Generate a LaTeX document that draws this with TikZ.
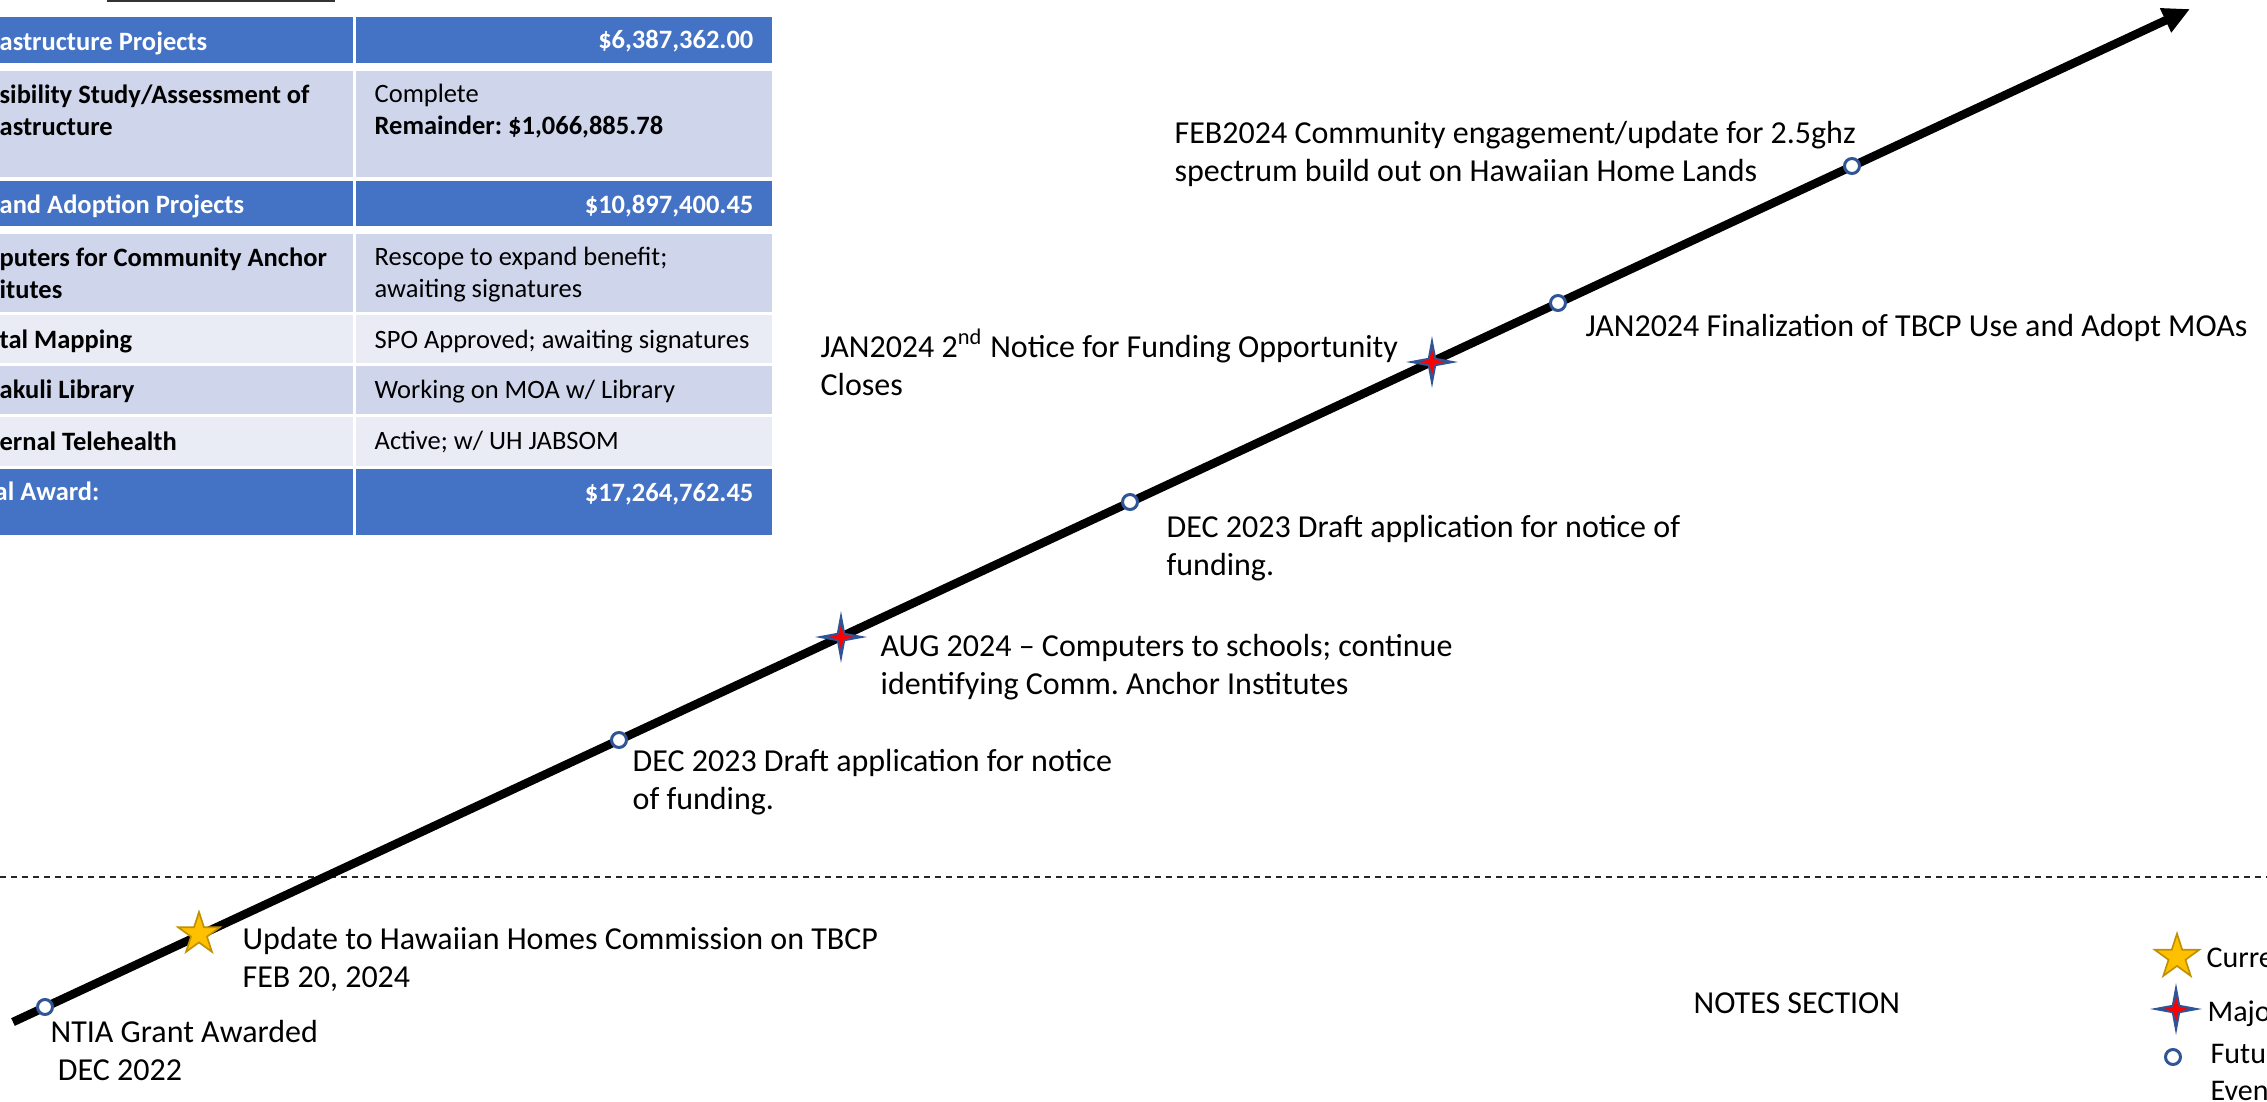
\documentclass[tikz,border=0pt]{standalone}
\usepackage{fontspec}
\setmainfont{Carlito}
\usetikzlibrary{arrows.meta,shapes.geometric}
\definecolor{hdrblue}{HTML}{4472C4}
\definecolor{rowdark}{HTML}{CFD5EA}
\definecolor{rowlight}{HTML}{E9EBF5}
\definecolor{mkblue}{HTML}{2F5597}
\definecolor{goldfill}{HTML}{FFC000}
\definecolor{golddraw}{HTML}{BF9000}
\definecolor{mkred}{HTML}{FF0000}
\newcommand\tlfont{\fontsize{9.6}{11.55}\selectfont}
\newcommand\tbfont{\fontsize{7.95}{9.6}\selectfont}
\newcommand\lgfont{\fontsize{9}{11}\selectfont}
\frenchspacing
\begin{document}
\begin{tikzpicture}[x=0.3pt,y=-0.3pt,
  lbl/.style={anchor=base west, inner sep=0pt, align=left, font=\tlfont},
  lgl/.style={anchor=base west, inner sep=0pt, align=left, font=\lgfont},
  tbl/.style={anchor=base west, inner sep=0pt, align=left, font=\tbfont},
  tbb/.style={tbl, font=\tbfont\bfseries},
  tbh/.style={tbl, font=\tbfont\bfseries, text=white},
  tbhr/.style={tbh, anchor=base east},
  futuremk/.style={circle, draw=mkblue, line width=0.9pt, fill=white, minimum size=4.5pt, inner sep=0pt},
  currentmk/.style={star, star points=5, star point ratio=2.618, minimum size=13.2pt, inner sep=0pt, fill=goldfill, draw=golddraw, line width=0.5pt},
  majorout/.style={star, star points=4, star point ratio=4.5, minimum size=15.6pt, inner sep=0pt, fill=mkblue},
  majorin/.style={star, star points=4, star point ratio=3.5, minimum size=7.5pt, inner sep=0pt, fill=mkred},
  timeline/.style={line width=2.55pt, -{Triangle[length=8.1pt,width=7.5pt]}},
  divider/.style={line width=0.75pt, dash pattern=on 1.8pt off 1.5pt, black!85}
]
\useasboundingbox (0,0) rectangle (2267,1102);
\clip (0,0) rectangle (2267,1102);

% top bar
\fill[black!80] (107,-3) rectangle (335,2);

% table
\fill[hdrblue]  (-10,17)  rectangle (353,63);   \fill[hdrblue]  (356,17)  rectangle (772,63);
\fill[rowdark]  (-10,71)  rectangle (353,177);  \fill[rowdark]  (356,71)  rectangle (772,177);
\fill[hdrblue]  (-10,181) rectangle (353,226);  \fill[hdrblue]  (356,181) rectangle (772,226);
\fill[rowdark]  (-10,234) rectangle (353,312);  \fill[rowdark]  (356,234) rectangle (772,312);
\fill[rowlight] (-10,315) rectangle (353,363);  \fill[rowlight] (356,315) rectangle (772,363);
\fill[rowdark]  (-10,366) rectangle (353,414);  \fill[rowdark]  (356,366) rectangle (772,414);
\fill[rowlight] (-10,417) rectangle (353,466);  \fill[rowlight] (356,417) rectangle (772,466);
\fill[hdrblue]  (-10,469) rectangle (353,535);  \fill[hdrblue]  (356,469) rectangle (772,535);

\node[tbh] (l1) at (-1,50.5) {astructure Projects};
\node[tbb] (l2) at (-1,135.5) {sibility Study/Assessment of\\astructure};
\node[tbh] (l3) at (-1,213.5) {and Adoption Projects};
\node[tbb] (l4) at (-1,298.5) {puters for Community Anchor\\itutes};
\node[tbb] (l5) at (-1,348.5) {tal Mapping};
\node[tbb] (l6) at (-1,398.5) {akuli Library};
\node[tbb] (l7) at (-1,450.5) {ernal Telehealth};
\node[tbh] (l8) at (-6,500) {al Award:};

\node[tbhr] (r1) at (754,48.5) {\$6,387,362.00};
\node[tbl] (r2) at (374,134.5) {Complete\\\textbf{Remainder: \$1,066,885.78}};
\node[tbhr] (r3) at (754,213.5) {\$10,897,400.45};
\node[tbl] (r4) at (374,297.5) {Rescope to expand benefit;\\awaiting signatures};
\node[tbl] (r5) at (374,348.5) {SPO Approved; awaiting signatures};
\node[tbl] (r6) at (374,398.5) {Working on MOA w/ Library};
\node[tbl] (r7) at (374,449.5) {Active; w/ UH JABSOM};
\node[tbhr] (r8) at (754,501.5) {\$17,264,762.45};

% divider
\coordinate (dl) at (0,877);
\coordinate (dr) at (2267,877);
\draw[divider] (dl) -- (dr);

% timeline
\coordinate (tstart) at (13,1022);
\coordinate (tend) at (2190,9);
\draw[timeline] (tstart) -- (tend);

\node[futuremk] (c1) at (45,1007) {};
\node[currentmk] (s1) at (199,934) {};
\node[futuremk] (c2) at (619,740) {};
\node[majorout] (m1) at (841,637) {};
\node[majorin] (m1i) at (m1) {};
\node[futuremk] (c3) at (1130,502) {};
\node[majorout] (m2) at (1432,362) {};
\node[majorin] (m2i) at (m2) {};
\node[futuremk] (c4) at (1558,303) {};
\node[futuremk] (c5) at (1852,166) {};

% labels (base anchor = baseline of last line)
\node[lbl] (t1) at (50,1080.5) {NTIA Grant Awarded\\~DEC 2022};
\node[lbl] (t2) at (242,987.5) {Update to Hawaiian Homes Commission on TBCP\\FEB 20, 2024};
\node[lbl] (t3) at (632,809.5) {DEC 2023 Draft application for notice\\of funding.};
\node[lbl] (t4) at (880,694.5) {AUG 2024 – Computers to schools; continue\\identifying Comm. Anchor Institutes};
\node[lbl] (t5) at (1166,575.5) {DEC 2023 Draft application for notice of\\funding.};
\node[lbl] (t6) at (820,395.5) {JAN2024 2\textsuperscript{nd} Notice for Funding Opportunity\\Closes};
\node[lbl] (t7) at (1585,336) {JAN2024 Finalization of TBCP Use and Adopt MOAs};
\node[lbl] (t8) at (1174,181.5) {FEB2024 Community engagement/update for 2.5ghz\\spectrum build out on Hawaiian Home Lands};
\node[lbl] (notes) at (1693,1013) {NOTES SECTION};

% legend
\node[currentmk, minimum size=14pt] (lg1) at (2177,957) {};
\node[lgl] (lg1t) at (2206,967) {Current};
\node[majorout] (lg2) at (2176,1009) {};
\node[majorin] (lg2i) at (lg2) {};
\node[lgl] (lg2t) at (2207,1021) {Major};
\node[futuremk] (lg3) at (2173,1057) {};
\node[lgl] (lg3t) at (2210,1100) {Future\\Events};
\end{tikzpicture}
\end{document}
